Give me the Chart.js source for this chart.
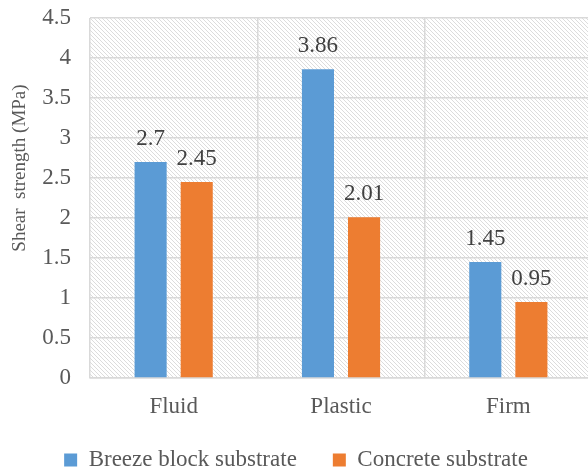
<!DOCTYPE html>
<html>
<head>
<meta charset="utf-8">
<script src="https://cdn.jsdelivr.net/npm/chart.js@4.4.1/dist/chart.umd.min.js"></script>
<style>
  html, body { margin: 0; padding: 0; background: #ffffff; overflow: hidden; }
  #wrap { width: 592px; height: 474px; position: relative; }
</style>
</head>
<body>
<div id="wrap"><canvas id="c"></canvas></div>
<script>
const categories = ["Fluid", "Plastic", "Firm"];
const breezeBlock = [2.7, 3.86, 1.45];
const concrete = [2.45, 2.01, 0.95];
const seriesNames = ["Breeze block substrate", "Concrete substrate"];
const yTicks = [0, 0.5, 1, 1.5, 2, 2.5, 3, 3.5, 4, 4.5];
const yTitle = "Shear  strength (MPa)";

const FONT = "'Liberation Serif', 'Times New Roman', serif";

function makeHatch() {
  const t = document.createElement('canvas');
  t.width = 4; t.height = 4;
  const g = t.getContext('2d');
  g.fillStyle = '#ffffff';
  g.fillRect(0, 0, 4, 4);
  g.strokeStyle = '#dcdcdc';
  g.lineWidth = 1;
  g.beginPath();
  g.moveTo(-1, -1); g.lineTo(5, 5);
  g.moveTo(-1, 3); g.lineTo(1, 5);
  g.moveTo(3, -1); g.lineTo(5, 1);
  g.stroke();
  return t;
}

const hatchPlugin = {
  id: 'hatch',
  beforeDraw(chart) {
    const {ctx, chartArea} = chart;
    if (!chartArea) return;
    ctx.save();
    ctx.fillStyle = ctx.createPattern(makeHatch(), 'repeat');
    ctx.fillRect(chartArea.left, chartArea.top, chartArea.right - chartArea.left, chartArea.bottom - chartArea.top);
    ctx.restore();
  }
};

const labelPlugin = {
  id: 'valueLabels',
  afterDatasetsDraw(chart) {
    const ctx = chart.ctx;
    ctx.save();
    ctx.font = "23px " + FONT;
    ctx.fillStyle = '#404040';
    ctx.textAlign = 'center';
    ctx.textBaseline = 'alphabetic';
    chart.data.datasets.forEach((ds, i) => {
      const meta = chart.getDatasetMeta(i);
      meta.data.forEach((bar, j) => {
        ctx.fillText(String(ds.data[j]), bar.x, bar.y - 17);
      });
    });
    ctx.restore();
  }
};

// y-axis title, placed slightly above the axis centre as in the reference
const yTitlePlugin = {
  id: 'yTitle',
  afterDraw(chart) {
    const ctx = chart.ctx;
    const y = chart.scales.y;
    ctx.save();
    ctx.translate(20, y.getPixelForValue(2.625));
    ctx.rotate(-Math.PI / 2);
    ctx.font = "19px " + FONT;
    ctx.fillStyle = '#595959';
    ctx.textAlign = 'center';
    ctx.textBaseline = 'middle';
    ctx.fillText(yTitle, 0, 0);
    ctx.restore();
  }
};

new Chart(document.getElementById('c'), {
  type: 'bar',
  data: {
    labels: categories,
    datasets: [
      { label: seriesNames[0], data: breezeBlock, backgroundColor: '#5B9BD5', borderWidth: 0 },
      { label: seriesNames[1], data: concrete, backgroundColor: '#ED7D31', borderWidth: 0 }
    ]
  },
  options: {
    responsive: true,
    maintainAspectRatio: false,
    animation: false,
    devicePixelRatio: 1,
    categoryPercentage: 0.551,
    barPercentage: 0.696,
    layout: { padding: { top: 18, right: 0, left: 0, bottom: -7.5 } },
    plugins: {
      legend: {
        position: 'bottom',
        labels: {
          boxWidth: 13,
          boxHeight: 13,
          padding: 36,
          color: '#595959',
          font: { family: FONT, size: 23 }
        }
      },
      tooltip: { enabled: false }
    },
    scales: {
      x: {
        grid: { color: '#d9d9d9', lineWidth: 1.5, drawTicks: false, offset: true },
        border: { color: '#d9d9d9', width: 1.5 },
        ticks: { color: '#595959', font: { family: FONT, size: 23 }, padding: 15.5 },
        afterFit(scale) {
          scale.height = 34.5;
          scale._computeLabelArea = () => undefined;
        }
      },
      y: {
        min: 0,
        max: 4.5,
        afterBuildTicks(scale) { scale.ticks = yTicks.map(v => ({ value: v })); },
        grid: { color: '#d9d9d9', lineWidth: 1.5, drawTicks: true, tickLength: 16, tickColor: 'rgba(0,0,0,0)' },
        border: { display: false },
        ticks: {
          color: '#595959',
          font: { family: FONT, size: 23 },
          padding: 3,
          callback: (v) => String(v)
        },
        title: { display: false, text: yTitle },
        afterFit(scale) { scale.width = 90; }
      }
    }
  },
  plugins: [hatchPlugin, labelPlugin, yTitlePlugin]
});
</script>
</body>
</html>
